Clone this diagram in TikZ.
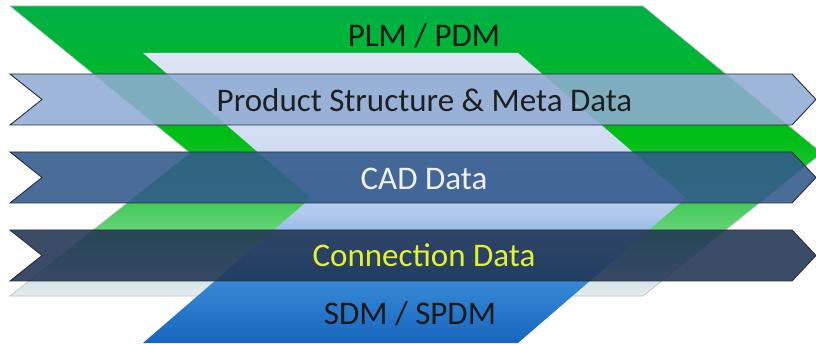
\documentclass[tikz,border=0pt]{standalone}
\usepackage{fontspec}
\setmainfont{Carlito}
\definecolor{gA}{RGB}{0,176,70}
\definecolor{gB}{RGB}{0,190,20}
\definecolor{gC}{RGB}{75,204,96}
\definecolor{gD}{RGB}{112,214,128}
\definecolor{gE}{RGB}{212,228,230}
\definecolor{gF}{RGB}{228,236,238}
\definecolor{bA}{RGB}{222,228,243}
\definecolor{bB}{RGB}{208,220,242}
\definecolor{bC}{RGB}{176,200,236}
\definecolor{bD}{RGB}{130,175,230}
\definecolor{bE}{RGB}{56,138,214}
\definecolor{bF}{RGB}{22,102,190}
\definecolor{psfill}{RGB}{144,172,212}
\definecolor{cadfill}{RGB}{49,88,139}
\definecolor{confill}{RGB}{32,52,84}
\definecolor{bandline}{RGB}{38,46,58}
\definecolor{contxt}{RGB}{228,240,50}
\pgfdeclareverticalshading{plmshade}{100bp}{color(0bp)=(gF); color(25bp)=(gF); color(28bp)=(gE); color(35bp)=(gD); color(40bp)=(gC); color(52bp)=(gB); color(75bp)=(gA); color(100bp)=(gA)}
\pgfdeclareverticalshading{sdmshade}{100bp}{color(0bp)=(bF); color(25bp)=(bF); color(36bp)=(bE); color(42bp)=(bD); color(47bp)=(bC); color(58bp)=(bB); color(75bp)=(bA); color(100bp)=(bA)}
\begin{document}
\begin{tikzpicture}[x=1pt,y=-1pt,
  band/.style={draw=bandline, line width=0.9pt, fill opacity=0.88, line join=miter},
  lbl/.style={font=\fontsize{33}{40}\selectfont, anchor=base, inner sep=0pt}]
\useasboundingbox (0,0) rectangle (816,344);
\fill[white] (0,0) rectangle (816,344);
% PLM / PDM chevron
\shade[shading=plmshade, draw=gray!50, line width=0.6pt]
  (10,6) -- (643,6) -- (822,153) -- (643,296) -- (10,296) -- (190,153) -- cycle;
% SDM / SPDM chevron
\shade[shading=sdmshade]
  (143,53) -- (518,53) -- (686,198) -- (518,343) -- (143,343) -- (311,198) -- cycle;
% bands
\path[band, fill=psfill]
  (10,74) -- (792,74) -- (816,99.5) -- (792,125) -- (10,125) -- (42,99.5) -- cycle;
\path[band, fill=cadfill]
  (10,152) -- (792,152) -- (816,177.5) -- (792,203) -- (10,203) -- (42,177.5) -- cycle;
\path[band, fill=confill]
  (10,230) -- (792,230) -- (816,255.5) -- (792,281) -- (10,281) -- (42,255.5) -- cycle;
% labels
\node[lbl, text=black!90] (plm) at (424,47) {PLM / PDM};
\node[lbl, text=black!88] (ps) at (424.5,112) {Product Structure \& Meta Data};
\node[lbl, text=white!94!black] (cad) at (424,190) {CAD Data};
\node[lbl, text=contxt] (con) at (424,267) {Connection Data};
\node[lbl, text=black!90] (sdm) at (410,324) {SDM / SPDM};
\end{tikzpicture}
\end{document}
